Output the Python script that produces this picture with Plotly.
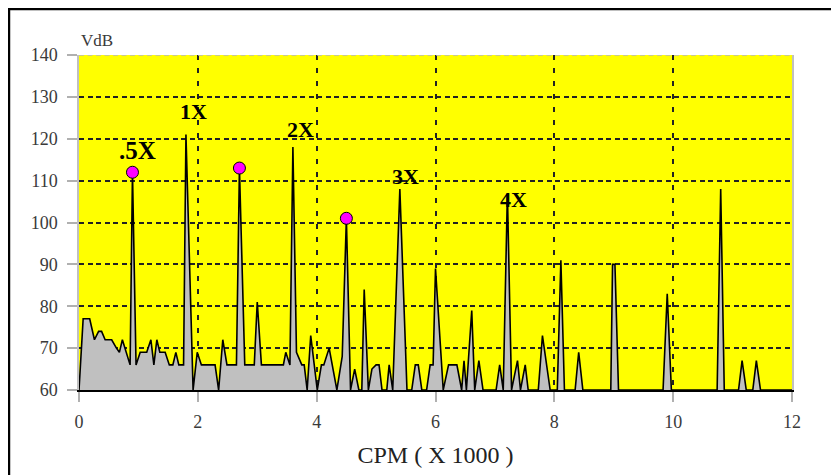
import plotly.graph_objects as go

# Spectrum (CPM x1000, VdB)
cpm = [0.0, 0.07, 0.18, 0.26, 0.33, 0.38, 0.44, 0.55, 0.63, 0.68, 0.73, 0.79, 0.86, 0.9, 0.96,
       1.03, 1.14, 1.21, 1.26, 1.31, 1.36, 1.45, 1.52, 1.58, 1.63, 1.68, 1.76, 1.8, 1.92, 1.99,
       2.06, 2.29, 2.35, 2.42, 2.49, 2.65, 2.7, 2.79, 2.95, 3.0, 3.07, 3.44, 3.48, 3.55, 3.6,
       3.66, 3.75, 3.79, 3.84, 3.9, 4.01, 4.08, 4.12, 4.21, 4.34, 4.43, 4.5, 4.57, 4.64, 4.71,
       4.76, 4.8, 4.87, 4.93, 5.0, 5.05, 5.1, 5.18, 5.22, 5.28, 5.4, 5.52, 5.6, 5.66, 5.71,
       5.77, 5.85, 5.91, 5.96, 6.0, 6.13, 6.22, 6.36, 6.44, 6.48, 6.52, 6.61, 6.66, 6.73, 6.8,
       7.02, 7.08, 7.14, 7.21, 7.28, 7.38, 7.43, 7.51, 7.56, 7.73, 7.8, 7.93, 8.05, 8.11, 8.17,
       8.35, 8.41, 8.48, 8.95, 8.98, 9.02, 9.08, 9.83, 9.9, 9.97, 10.74, 10.8, 10.86, 11.1, 11.16,
       11.23, 11.34, 11.4, 11.47, 12.0]
vdb = [60, 77, 77, 72, 74, 74, 72, 72, 70, 69, 72, 69, 66, 112, 66,
       69, 69, 72, 66, 72, 69, 69, 66, 66, 69, 66, 66, 121, 60, 69,
       66, 66, 60, 72, 66, 66, 113, 66, 66, 81, 66, 66, 69, 66, 118,
       69, 66, 66, 60, 73, 60, 66, 66, 70, 60, 68, 101, 60, 65, 60,
       60, 84, 60, 65, 66, 66, 60, 60, 66, 60, 108, 60, 60, 66, 66,
       60, 60, 66, 66, 89, 60, 66, 66, 60, 67, 60, 79, 60, 67, 60,
       60, 66, 60, 107, 60, 67, 60, 66, 60, 60, 73, 60, 60, 91, 60,
       60, 69, 60, 60, 90, 90, 60, 60, 83, 60, 60, 108, 60, 60, 67,
       60, 60, 67, 60, 60]

# Highlighted peaks
mark_x = [0.9, 2.7, 4.5]
mark_y = [112, 113, 101]

# Order labels
lab_text = [".5X", "1X", "2X", "3X", "4X"]
lab_x = [0.98, 1.92, 3.72, 5.49, 7.32]
lab_y = [117.3, 126.5, 122.3, 110.9, 105.4]
lab_size = [25, 22, 22, 22, 22]

x_ticks = [0, 2, 4, 6, 8, 10, 12]
y_ticks = [60, 70, 80, 90, 100, 110, 120, 130, 140]

fig = go.Figure()
fig.add_trace(go.Scatter(x=cpm, y=vdb, mode="lines", fill="tozeroy",
                         fillcolor="#c0c0c0", line=dict(color="black", width=1.6),
                         hoverinfo="skip", showlegend=False))
fig.add_trace(go.Scatter(x=mark_x, y=mark_y, mode="markers",
                         marker=dict(color="#ff00ff", size=12, line=dict(color="black", width=1)),
                         hoverinfo="skip", showlegend=False, cliponaxis=False))

for t, x, y, s in zip(lab_text, lab_x, lab_y, lab_size):
    fig.add_annotation(x=x, y=y, text="<b>%s</b>" % t, showarrow=False,
                       font=dict(family="Liberation Serif", size=s, color="black"))

tickfont = dict(family="Liberation Serif", size=18, color="#3a3a3a")

fig.update_xaxes(range=[0, 12], tickvals=x_ticks, showgrid=True, gridcolor="#222222",
                 gridwidth=1.5, griddash="5px,8px", zeroline=False,
                 showline=True, linecolor="black", linewidth=2,
                 ticks="outside", ticklen=10, tickcolor="#b0b0b0", tickwidth=1.5,
                 tickfont=tickfont, ticklabelstandoff=4,
                 title=dict(text="CPM ( X 1000 )", font=dict(family="Liberation Serif", size=24, color="#222222"),
                            standoff=16))
fig.update_yaxes(range=[60, 140], tickvals=y_ticks, showgrid=True, gridcolor="#222222",
                 gridwidth=1.5, griddash="5px,3.5px", zeroline=False,
                 showline=True, linecolor="#c0c0c0", linewidth=1.5, mirror=True,
                 ticks="outside", ticklen=10, tickcolor="#b0b0b0", tickwidth=1.5,
                 tickfont=tickfont, ticklabelstandoff=6)

fig.add_shape(type="line", xref="x", yref="y", x0=0, x1=12, y0=140, y1=140,
              line=dict(color="#b8b8b8", width=1.5, dash="5px,3.5px"))
fig.add_shape(type="rect", xref="paper", yref="paper", x0=-0.0982, x1=1.09, y0=-0.31, y1=1.1373,
              line=dict(color="black", width=2.5), fillcolor="rgba(0,0,0,0)")
fig.add_annotation(xref="paper", yref="paper", x=0.0, y=1.0, xanchor="left", yanchor="bottom",
                   yshift=3, text="VdB", showarrow=False,
                   font=dict(family="Liberation Serif", size=17, color="#3a3a3a"))

fig.update_layout(width=831, height=467, margin=dict(l=71, r=47, t=47, b=85),
                  plot_bgcolor="#ffff00", paper_bgcolor="white")

fig.write_html("out.html")
